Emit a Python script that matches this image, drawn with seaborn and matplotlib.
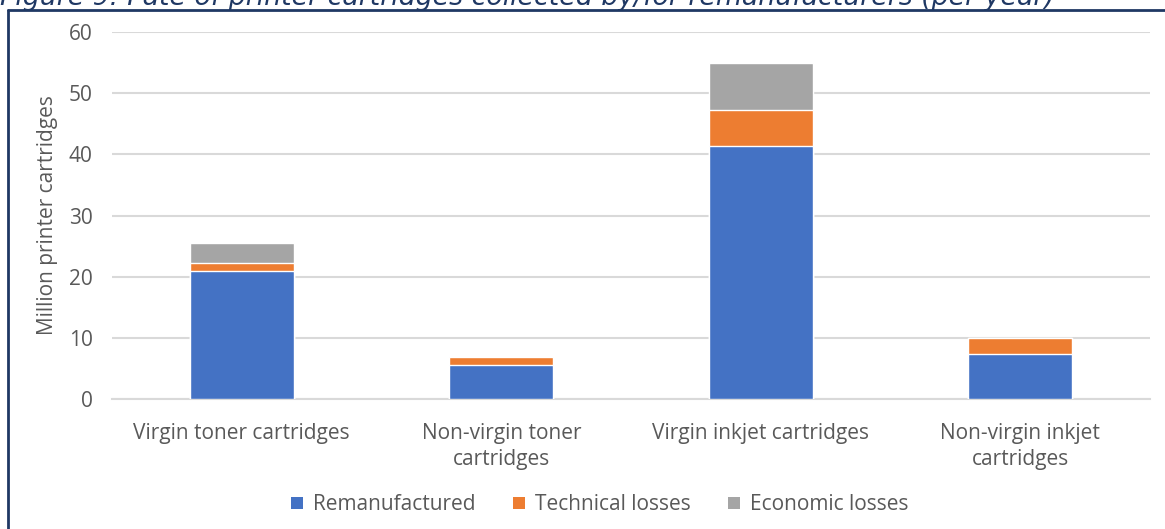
import matplotlib
matplotlib.use("Agg")
import matplotlib.pyplot as plt
import seaborn as sns
import numpy as np
import pandas as pd
from matplotlib.lines import Line2D
from matplotlib.patches import Patch

# Data (million printer cartridges per year)
categories = [
    "Virgin toner cartridges",
    "Non-virgin toner\ncartridges",
    "Virgin inkjet cartridges",
    "Non-virgin inkjet\ncartridges",
]
remanufactured = [21.0, 5.6, 41.4, 7.4]
technical_losses = [1.2, 1.3, 5.9, 2.6]
economic_losses = [3.3, 0.0, 7.7, 0.0]

series_names = ["Remanufactured", "Technical losses", "Economic losses"]
colors = ["#4472C4", "#ED7D31", "#A5A5A5"]
title = "Figure 9: Fate of printer cartridges collected by/for remanufacturers (per year)"

sns.set_theme(style="white")
plt.rcParams["font.family"] = ["Open Sans", "DejaVu Sans"]

df = pd.DataFrame({
    "category": categories,
    "Remanufactured": remanufactured,
    "Technical losses": technical_losses,
    "Economic losses": economic_losses,
})
# cumulative heights for stacking (draw tallest first)
df["c1"] = df["Remanufactured"]
df["c2"] = df["c1"] + df["Technical losses"]
df["c3"] = df["c2"] + df["Economic losses"]

fig = plt.figure(figsize=(11.65, 5.29), dpi=100)
ax = fig.add_axes([112 / 1165, 1 - 399 / 529, (1150 - 112) / 1165, (399 - 32) / 529])

for col, c in zip(["c3", "c2", "c1"], colors[::-1]):
    sns.barplot(data=df, x="category", y=col, color=c, width=0.4,
                saturation=1, ax=ax, zorder=3)

ax.set_ylim(0, 60)
ax.set_yticks(range(0, 61, 10))
ax.yaxis.grid(True, color="#D9D9D9", linewidth=1.5, zorder=0)
ax.set_axisbelow(True)
for s in ["top", "right", "left"]:
    ax.spines[s].set_visible(False)
ax.spines["bottom"].set_color("#D9D9D9")
ax.spines["bottom"].set_linewidth(1.5)
ax.tick_params(axis="both", length=0, colors="#595959", labelsize=15)
ax.tick_params(axis="x", pad=17)
ax.tick_params(axis="y", pad=14)
for lbl in ax.get_xticklabels():
    lbl.set_linespacing(1.35)
ax.set_xlabel("")
ax.set_ylabel("Million printer cartridges", color="#595959", fontsize=15, labelpad=8)

handles = [Patch(facecolor=c, edgecolor="none") for c in colors]
fig.legend(handles, series_names, loc="center", bbox_to_anchor=(600 / 1165, 1 - 505 / 529),
           ncol=3, frameon=False, fontsize=15, handlelength=0.55, handleheight=0.55,
           columnspacing=1.8, handletextpad=0.5, labelcolor="#595959")

# outer frame and cut-off caption
navy = "#1F3864"
fig.add_artist(Line2D([8 / 1165, 8 / 1165], [0, 1 - 10 / 529], transform=fig.transFigure,
                      color=navy, linewidth=2))
fig.add_artist(Line2D([8 / 1165, 1], [1 - 10 / 529, 1 - 10 / 529], transform=fig.transFigure,
                      color=navy, linewidth=2))
fig.text(0, 1 - 5 / 529, title, ha="left", va="baseline", fontsize=19.3, style="italic",
         color=navy, family="DejaVu Sans")

fig.savefig("out.png", dpi=100)
